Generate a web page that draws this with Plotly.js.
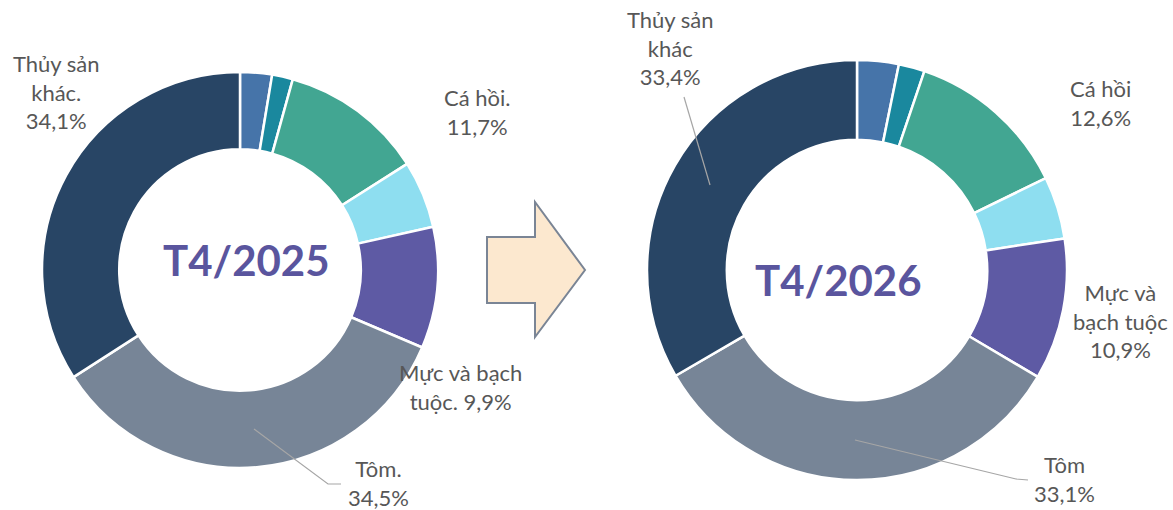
<!DOCTYPE html>
<html>
<head>
<meta charset="utf-8">
<script src="https://cdn.plot.ly/plotly-3.0.1.min.js"></script>
<style>html,body{margin:0;padding:0;background:#fff}#chart{width:1173px;height:510px}</style>
</head>
<body>
<div id="chart"></div>
<script>
// ---- data ----
const categories = ["Cá ngừ", "Cua ghẹ", "Cá hồi", "Nhuyễn thể", "Mực và bạch tuộc", "Tôm", "Thủy sản khác"];
const values2025 = [2.6, 1.7, 11.7, 5.5, 9.9, 34.5, 34.1];
const values2026 = [3.2, 2.0, 12.6, 4.8, 10.9, 33.1, 33.4];
const titles = ["T4/2025", "T4/2026"];
// label prefixes (index into categories) for the labelled slices
const labelPrefix2025 = {2: "Cá hồi.<br>", 4: "Mực và bạch<br>tuộc. ", 5: "Tôm.<br>", 6: "Thủy sản<br>khác.<br>"};
const labelPrefix2026 = {2: "Cá hồi<br>", 4: "Mực và<br>bạch tuộc<br>", 5: "Tôm<br>", 6: "Thủy sản<br>khác<br>"};

// ---- style ----
const colors = ["#4674A9", "#1A889E", "#42A692", "#8EDEF0", "#5E5AA4", "#778597", "#284565"];
const W = 1173, H = 510;
const px = x => x / W;
const py = y => 1 - y / H;
const fmt = v => v.toFixed(1).replace('.', ',') + '%';
const FONT = "Lato, 'Open Sans', sans-serif";

function pie(values, cx, cy, r, hole) {
  return {
    type: 'pie', values: values, labels: categories, sort: false,
    direction: 'clockwise', rotation: 0, hole: hole,
    marker: {colors: colors, line: {color: '#ffffff', width: 2.5}},
    textinfo: 'none', hoverinfo: 'label+percent', showlegend: false,
    domain: {x: [px(cx - r), px(cx + r)], y: [py(cy + r), py(cy - r)]}
  };
}

const data = [
  pie(values2025, 240, 270, 198, 0.61),
  pie(values2026, 857, 270, 210, 0.62)
];

// label positions (pixel centres)
const labelPos2025 = {2: [477, 112], 4: [460, 387], 5: [378, 483], 6: [57, 92]};
const labelPos2026 = {2: [1100, 103], 4: [1120, 321], 5: [1064, 479], 6: [670, 48]};

const annotations = [];
function addLabels(values, prefixes, pos) {
  Object.keys(prefixes).forEach(k => {
    const p = pos[k];
    annotations.push({
      xref: 'paper', yref: 'paper', x: px(p[0]), y: py(p[1]),
      xanchor: 'center', yanchor: 'middle', showarrow: false, align: 'center',
      text: prefixes[k] + fmt(values[k]),
      font: {family: FONT, size: 22, color: '#575757'}
    });
  });
}
addLabels(values2025, labelPrefix2025, labelPos2025);
addLabels(values2026, labelPrefix2026, labelPos2026);

[[246, 260], [838, 280]].forEach((c, i) => {
  annotations.push({
    xref: 'paper', yref: 'paper', x: px(c[0]), y: py(c[1]),
    xanchor: 'center', yanchor: 'middle', showarrow: false,
    text: '<b>' + titles[i] + '</b>',
    font: {family: FONT, size: 42, color: '#5A559E'}
  });
});

function pathFrom(pts) {
  return pts.map((p, i) => (i ? 'L' : 'M') + px(p[0]) + ',' + py(p[1])).join(' ');
}

const shapes = [
  // arrow
  {type: 'path', xref: 'paper', yref: 'paper',
   path: pathFrom([[487, 237], [535, 237], [535, 202], [585, 270], [535, 337], [535, 303], [487, 303]]) + ' Z',
   fillcolor: '#FCE8CF', line: {color: '#7A8595', width: 2}},
  // leader lines
  {type: 'path', xref: 'paper', yref: 'paper',
   path: pathFrom([[254, 429], [328, 484], [341, 484]]), line: {color: '#A6A6A6', width: 1.2}},
  {type: 'path', xref: 'paper', yref: 'paper',
   path: pathFrom([[855, 440], [1016, 479], [1028, 480]]), line: {color: '#A6A6A6', width: 1.2}},
  {type: 'path', xref: 'paper', yref: 'paper',
   path: pathFrom([[684, 97], [710, 185]]), line: {color: '#A6A6A6', width: 1.2}}
];

const layout = {
  width: W, height: H, margin: {l: 0, r: 0, t: 0, b: 0},
  paper_bgcolor: '#ffffff', plot_bgcolor: '#ffffff',
  showlegend: false, annotations: annotations, shapes: shapes,
  font: {family: FONT}
};

Plotly.newPlot('chart', data, layout, {displayModeBar: false, staticPlot: true});
</script>
</body>
</html>
